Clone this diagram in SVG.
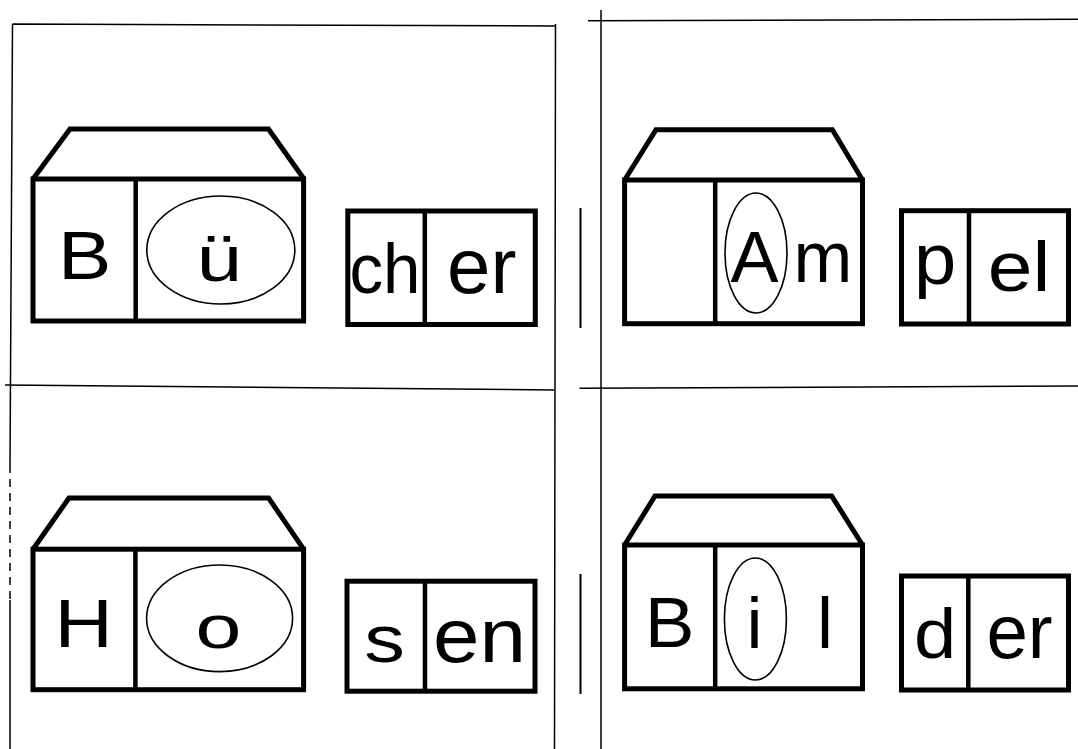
<svg xmlns="http://www.w3.org/2000/svg" width="1078" height="749" viewBox="0 0 1078 749">
<style>
.thick{fill:none;stroke:#000;stroke-width:5;stroke-linejoin:miter;stroke-miterlimit:10}
.div{fill:none;stroke:#000;stroke-width:4.5}
.oval{fill:none;stroke:#000;stroke-width:1.6}
.cut{fill:none;stroke:#000;stroke-width:1.5}
.mark{fill:none;stroke:#000;stroke-width:2}
.t{font-family:"Liberation Sans",Arial,Helvetica,sans-serif;fill:#000;text-anchor:middle}
</style>
<rect width="1078" height="749" fill="#fff"/>
<g id="cut-lines">
<path class="cut" d="M12.5 24 L556 26 M555.5 24 L554.5 749 M12.5 24 L10 465 M10 600 L10 749 M5 385 L554 390"/>
<path class="cut" stroke-dasharray="8 6" d="M10 465 L10 600"/>
<path class="cut" d="M588 20.7 L1078 19.3 M601 10 L601 749 M579.5 388.3 L1078 386"/>
<path class="mark" d="M580.5 208 L580.5 328 M580.5 574 L580.5 694"/>
</g>
<g id="house-buecher">
<path class="thick" d="M33 179 L70 129 L268.5 129 L304 179"/>
<rect class="thick" x="33" y="179" width="270.6" height="142"/>
<line class="div" x1="135.7" y1="179" x2="135.7" y2="321"/>
<ellipse class="oval" cx="220.8" cy="250" rx="74" ry="54"/>
<text class="t" font-size="69" transform="translate(84.7,279) scale(1.16,1)">B</text>
<text class="t" font-size="64" transform="translate(219.2,281) scale(1.28,1)">ü</text>
</g>
<g id="box-cher">
<rect class="thick" x="347.8" y="211" width="187.5" height="113.5"/>
<line class="div" x1="424.8" y1="211" x2="424.8" y2="324.5"/>
<text class="t" font-size="70" transform="translate(385,293) scale(0.96,1)">ch</text>
<text class="t" font-size="78" transform="translate(481.7,293)">er</text>
</g>
<g id="house-ampel">
<path class="thick" d="M624.6 180 L656 129.7 L832.4 129.7 L862.5 180"/>
<rect class="thick" x="624.6" y="180" width="237.9" height="143.7"/>
<line class="div" x1="715.2" y1="180" x2="715.2" y2="323.7"/>
<ellipse class="oval" cx="756" cy="253" rx="31" ry="60"/>
<text class="t" font-size="72" transform="translate(754.5,282)">A</text>
<text class="t" font-size="72" transform="translate(823,282) scale(0.98,1)">m</text>
</g>
<g id="box-pel">
<rect class="thick" x="901.5" y="210.7" width="167" height="113.3"/>
<line class="div" x1="969" y1="210.7" x2="969" y2="324"/>
<text class="t" font-size="73" transform="translate(935,284) scale(1.04,1)">p</text>
<text class="t" font-size="70" transform="translate(1019,291) scale(1.15,1)">el</text>
</g>
<g id="house-hosen">
<path class="thick" d="M33 549.2 L69 498 L268.6 498 L303.6 549.2"/>
<rect class="thick" x="33" y="549.2" width="270.6" height="140.5"/>
<line class="div" x1="135.4" y1="549.2" x2="135.4" y2="689.7"/>
<ellipse class="oval" cx="219.6" cy="618.3" rx="73" ry="53.3"/>
<text class="t" font-size="68.5" transform="translate(83.6,646.7) scale(1.18,1)">H</text>
<text class="t" font-size="62" transform="translate(218.4,648) scale(1.33,1)">o</text>
</g>
<g id="box-sen">
<rect class="thick" x="347" y="581.2" width="188" height="110"/>
<line class="div" x1="425" y1="581.2" x2="425" y2="691.2"/>
<text class="t" font-size="66" transform="translate(384.6,661.7) scale(1.23,1)">s</text>
<text class="t" font-size="76" transform="translate(479.5,661.7) scale(1.1,1)">en</text>
</g>
<g id="house-bilder">
<path class="thick" d="M624.6 545 L655 496 L831.7 496 L862.5 545"/>
<rect class="thick" x="624.6" y="545" width="237.9" height="143.8"/>
<line class="div" x1="715.2" y1="545" x2="715.2" y2="688.8"/>
<ellipse class="oval" cx="755.4" cy="619" rx="31" ry="61"/>
<text class="t" font-size="71" transform="translate(669.5,647.3) scale(1.05,1)">B</text>
<text class="t" font-size="72" transform="translate(754.5,648.3)">i</text>
<text class="t" font-size="72" transform="translate(825,648)">l</text>
</g>
<g id="box-der">
<rect class="thick" x="901.5" y="576" width="167" height="114"/>
<line class="div" x1="968.3" y1="576" x2="968.3" y2="690"/>
<text class="t" font-size="71" transform="translate(935,658.3) scale(1.07,1)">d</text>
<text class="t" font-size="76" transform="translate(1019.5,658) scale(0.98,1)">er</text>
</g>
</svg>
